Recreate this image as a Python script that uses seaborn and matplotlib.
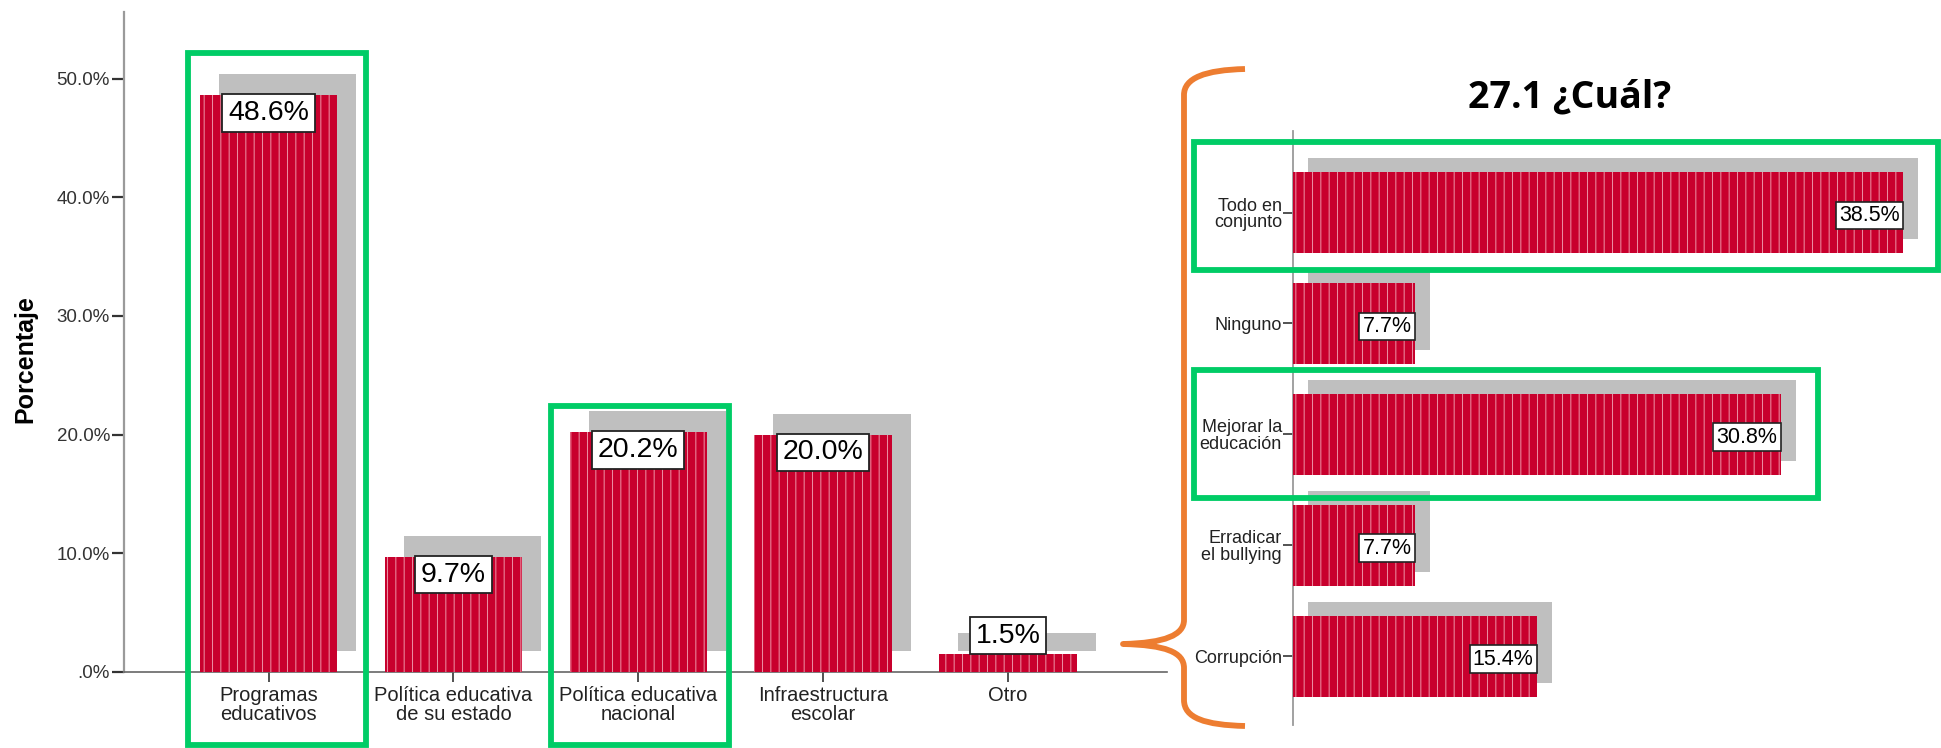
import matplotlib.pyplot as plt
import matplotlib.transforms as mtransforms
from matplotlib.patches import Rectangle, PathPatch
from matplotlib.path import Path
import seaborn as sns

# --- datos: pregunta principal ---
categorias = ["Programas\neducativos", "Política educativa\nde su estado",
              "Política educativa\nnacional", "Infraestructura\nescolar", "Otro"]
porcentajes = [48.6, 9.7, 20.2, 20.0, 1.5]
yticks = [0, 10, 20, 30, 40, 50]
ytick_labels = [".0%", "10.0%", "20.0%", "30.0%", "40.0%", "50.0%"]

# --- datos: 27.1 ¿Cuál? ---
cual_categorias = ["Todo en\nconjunto", "Ninguno", "Mejorar la\neducación",
                   "Erradicar\nel bullying", "Corrupción"]
cual_porcentajes = [38.5, 7.7, 30.8, 7.7, 15.4]

ROJO = "#C8002D"
GRIS = "#BFBFBF"
PUNTEADO = "#EB8CA0"
VERDE = "#00CC66"
NARANJA = "#ED7D31"

W, H = 1941, 748
sns.set_style("ticks")
plt.rcParams["font.family"] = ["Liberation Sans", "DejaVu Sans"]
plt.rcParams["text.color"] = "black"
plt.rcParams["hatch.linewidth"] = 0.75

fig = plt.figure(figsize=(W / 100, H / 100), dpi=100)


def sombra(ax, dx, dy):
    # desplaza las barras grises (sombra tipo SPSS) unos pixeles arriba/derecha
    off = mtransforms.ScaledTranslation(dx / 100, dy / 100, fig.dpi_scale_trans)
    for p in ax.containers[-1]:
        p.set_transform(ax.transData + off)
        p.set_clip_on(False)


# ---------------- gráfico de barras verticales ----------------
ax1 = fig.add_axes([123.8 / W, 1 - 672 / H, (1167 - 123.8) / W, (672 - 12.4) / H])
ax1.patch.set_alpha(0)
sns.barplot(x=categorias, y=porcentajes, color=GRIS, saturation=1, width=0.743,
            linewidth=0, errorbar=None, ax=ax1, zorder=1)
sombra(ax1, 19, 21)
sns.barplot(x=categorias, y=porcentajes, color=ROJO, saturation=1, width=0.743,
            edgecolor=PUNTEADO, linewidth=0, hatch="||", errorbar=None, ax=ax1, zorder=3)

ax1.set_xlim(-0.7835, 4.861)
ax1.set_ylim(0, 55.57)
ax1.set_yticks(yticks, ytick_labels)
ax1.set_xlabel("")
ax1.set_ylabel("Porcentaje", fontsize=18, fontweight="bold", color="black")
ax1.yaxis.set_label_coords(-0.083, 0.475)
for s in ["top", "right"]:
    ax1.spines[s].set_visible(False)
ax1.spines["left"].set_color("#9A9A9A")
ax1.spines["left"].set_linewidth(1.6)
ax1.spines["bottom"].set_color("#666666")
ax1.spines["bottom"].set_linewidth(1.2)
ax1.tick_params(axis="y", left=True, direction="out", length=9, width=1.6,
                color="#333333", labelsize=13.5, labelcolor="#333333", pad=1)
ax1.tick_params(axis="x", bottom=True, direction="out", length=7, width=1.2,
                color="#333333", labelsize=14.5, labelcolor="#222222", pad=3)
for t in ax1.get_xticklabels():
    t.set_linespacing(1.0)

caja = dict(boxstyle="square,pad=0.2", fc="white", ec="#222222", lw=1.3)
for i, v in enumerate(porcentajes):
    if v < 5:
        ax1.annotate(f"{v:.1f}%", (i, v), xytext=(0, 4), textcoords="offset points",
                     ha="center", va="bottom", fontsize=20.5, color="black",
                     bbox=caja, zorder=5)
    else:
        ax1.annotate(f"{v:.1f}%", (i, v), xytext=(0, -3.5), textcoords="offset points",
                     ha="center", va="top", fontsize=20.5, color="black",
                     bbox=caja, zorder=5)

# ---------------- gráfico de barras horizontales ----------------
ax2 = fig.add_axes([1293 / W, 1 - 725 / H, (W - 1293) / W, (725 - 131) / H])
ax2.patch.set_alpha(0)
sns.barplot(x=cual_porcentajes, y=cual_categorias, orient="h", color=GRIS, saturation=1,
            width=0.73, linewidth=0, errorbar=None, ax=ax2, zorder=1)
sombra(ax2, 15, 14)
sns.barplot(x=cual_porcentajes, y=cual_categorias, orient="h", color=ROJO, saturation=1,
            width=0.73, edgecolor=PUNTEADO, linewidth=0, hatch="||", errorbar=None,
            ax=ax2, zorder=3)

ax2.set_xlim(0, 40.9)
ax2.set_ylim(4.62, -0.735)
ax2.set_xlabel("")
ax2.set_ylabel("")
ax2.set_xticks([])
for s in ["top", "right", "bottom"]:
    ax2.spines[s].set_visible(False)
ax2.spines["left"].set_color("#9A9A9A")
ax2.spines["left"].set_linewidth(1.3)
ax2.tick_params(axis="y", left=True, direction="out", length=7, width=1.3,
                color="#444444", labelsize=13, labelcolor="#222222", pad=1)
for t in ax2.get_yticklabels():
    t.set_linespacing(0.95)

caja2 = dict(boxstyle="square,pad=0.15", fc="white", ec="#222222", lw=1.2)
for i, v in enumerate(cual_porcentajes):
    ax2.annotate(f"{v:.1f}%", (v, i), xytext=(-2.5, -2), textcoords="offset points",
                 ha="right", va="center", fontsize=15.5, color="black",
                 bbox=caja2, zorder=5)

# ---------------- anotaciones encima (recuadros, llave, título) ----------------
ov = fig.add_axes([0, 0, 1, 1], zorder=10)
ov.set_xlim(0, W)
ov.set_ylim(H, 0)
ov.axis("off")
ov.patch.set_alpha(0)

recuadros = [(188, 53, 366, 745), (551, 405.5, 729, 745),
             (1194, 142, 1938, 270), (1194, 369.5, 1818, 497.5)]
for x0, y0, x1, y1 in recuadros:
    ov.add_patch(Rectangle((x0, y0), x1 - x0, y1 - y0, fill=False, ec=VERDE, lw=4.2))

verts = [(1245, 69), (1205, 70), (1184, 78), (1184, 95),
         (1184, 620),
         (1184, 635), (1165, 643), (1123, 644),
         (1165, 645), (1184, 652), (1184, 668),
         (1184, 700),
         (1184, 718), (1205, 725), (1245, 726)]
codes = [Path.MOVETO, Path.CURVE4, Path.CURVE4, Path.CURVE4,
         Path.LINETO,
         Path.CURVE4, Path.CURVE4, Path.CURVE4,
         Path.CURVE4, Path.CURVE4, Path.CURVE4,
         Path.LINETO,
         Path.CURVE4, Path.CURVE4, Path.CURVE4]
ov.add_patch(PathPatch(Path(verts, codes), fill=False, ec=NARANJA, lw=4.2,
                       capstyle="butt", joinstyle="round"))

ov.text(1570, 97, "27.1 ¿Cuál?", ha="center", va="center", fontsize=27,
        fontweight="bold", color="black", family=["Open Sans", "DejaVu Sans"])

fig.savefig("out.png", dpi=100)
